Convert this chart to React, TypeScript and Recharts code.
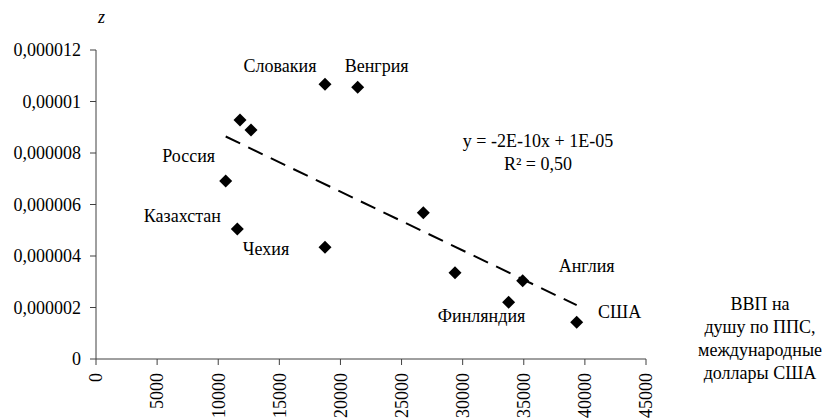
import React from 'react';
import { ScatterChart, Scatter, XAxis, YAxis } from 'recharts';

const xTicks = [0, 5000, 10000, 15000, 20000, 25000, 30000, 35000, 40000, 45000];
const yTicks = [0, 0.000002, 0.000004, 0.000006, 0.000008, 0.00001, 0.000012];

const gdp = [10612, 11782, 12682, 18736, 21409, 11564, 18736, 26782, 29373, 34909, 33758, 39327];
const zValues = [6.91e-6, 9.28e-6, 8.89e-6, 10.67e-6, 10.55e-6, 5.05e-6, 4.34e-6, 5.68e-6, 3.35e-6, 3.04e-6, 2.2e-6, 1.43e-6];
const pointLabels = ['Россия', '', '', 'Словакия', 'Венгрия', 'Казахстан', 'Чехия', '', '', 'Англия', 'Финляндия', 'США'];

const trendX = [10612, 39327];
const trendZ = [8.64e-6, 2.09e-6];

const equationLines = ['y = -2E-10x + 1E-05', 'R² = 0,50'];
const xTitleLines = ['ВВП на', 'душу по ППС,', 'международные', 'доллары США'];
const yTitle = 'z';

// label placement offsets (pixels, relative to marker center)
const labelOffsets: Record<string, [number, number]> = {
  'Россия': [-37, -19],
  'Словакия': [-45, -12],
  'Венгрия': [19, -15],
  'Казахстан': [-55, -7],
  'Чехия': [-59, 8],
  'Англия': [64, -9],
  'Финляндия': [-27, 20],
  'США': [43, -4],
};

const points = gdp.map((x, i) => ({ x, z: zValues[i], name: pointLabels[i] }));
const trend = trendX.map((x, i) => ({ x, z: trendZ[i] }));

const TXT: React.CSSProperties = { fontFamily: 'Liberation Serif', fontSize: 18, fill: '#000' };

const formatY = (v: number) => {
  if (v === 0) return '0';
  return v.toFixed(6).replace(/0+$/, '').replace('.', ',');
};

const Diamond = (props: any) => {
  const { cx, cy, payload } = props;
  if (cx == null || cy == null) return <g />;
  const r = 6.5;
  const name = payload?.name;
  const off = name ? labelOffsets[name] : null;
  return (
    <g>
      <polygon points={`${cx},${cy - r} ${cx + r},${cy} ${cx},${cy + r} ${cx - r},${cy}`} fill="#000" />
      {name && off ? (
        <text x={cx + off[0]} y={cy + off[1]} textAnchor="middle" style={TXT}>
          {name}
        </text>
      ) : null}
    </g>
  );
};

const XTick = (props: any) => {
  const { x, y, payload } = props;
  return (
    <g transform={`translate(${x},${y})`}>
      <text transform="rotate(-90)" x={-6} y={0} dy="0.35em" textAnchor="end" style={TXT}>
        {payload.value}
      </text>
    </g>
  );
};

const YTick = (props: any) => {
  const { x, y, payload } = props;
  return (
    <text x={x} y={y} dy="0.35em" textAnchor="end" style={TXT}>
      {formatY(payload.value)}
    </text>
  );
};

const Empty = () => <g />;

export default function App() {
  return (
    <div style={{ position: 'absolute', left: 0, top: 0, width: 837, height: 418, background: '#fff' }}>
      <ScatterChart width={837} height={418} margin={{ top: 50, right: 191, bottom: 0, left: 10 }}>
        <XAxis
          type="number"
          dataKey="x"
          domain={[0, 45000]}
          ticks={xTicks}
          interval={0}
          height={59}
          tickSize={6}
          tickMargin={2}
          stroke="#404040"
          tick={<XTick />}
          allowDataOverflow
        />
        <YAxis
          type="number"
          dataKey="z"
          domain={[0, 0.000012]}
          ticks={yTicks}
          interval={0}
          width={86}
          tickSize={6}
          tickMargin={9}
          stroke="#404040"
          tick={<YTick />}
          allowDataOverflow
        />
        <Scatter
          data={trend}
          line={{ stroke: '#000', strokeWidth: 2, strokeDasharray: '16 9' }}
          shape={<Empty />}
          isAnimationActive={false}
        />
        <Scatter data={points} shape={<Diamond />} isAnimationActive={false} />
      </ScatterChart>
      <svg
        width={837}
        height={418}
        style={{ position: 'absolute', left: 0, top: 0, pointerEvents: 'none' }}
      >
        <text x={98} y={23} style={{ ...TXT, fontStyle: 'italic' }}>
          {yTitle}
        </text>
        {equationLines.map((t, i) => (
          <text key={t} x={538} y={147 + i * 23} textAnchor="middle" style={TXT}>
            {t}
          </text>
        ))}
        {xTitleLines.map((t, i) => (
          <text key={t} x={760} y={310 + i * 23} textAnchor="middle" style={TXT}>
            {t}
          </text>
        ))}
      </svg>
    </div>
  );
}
